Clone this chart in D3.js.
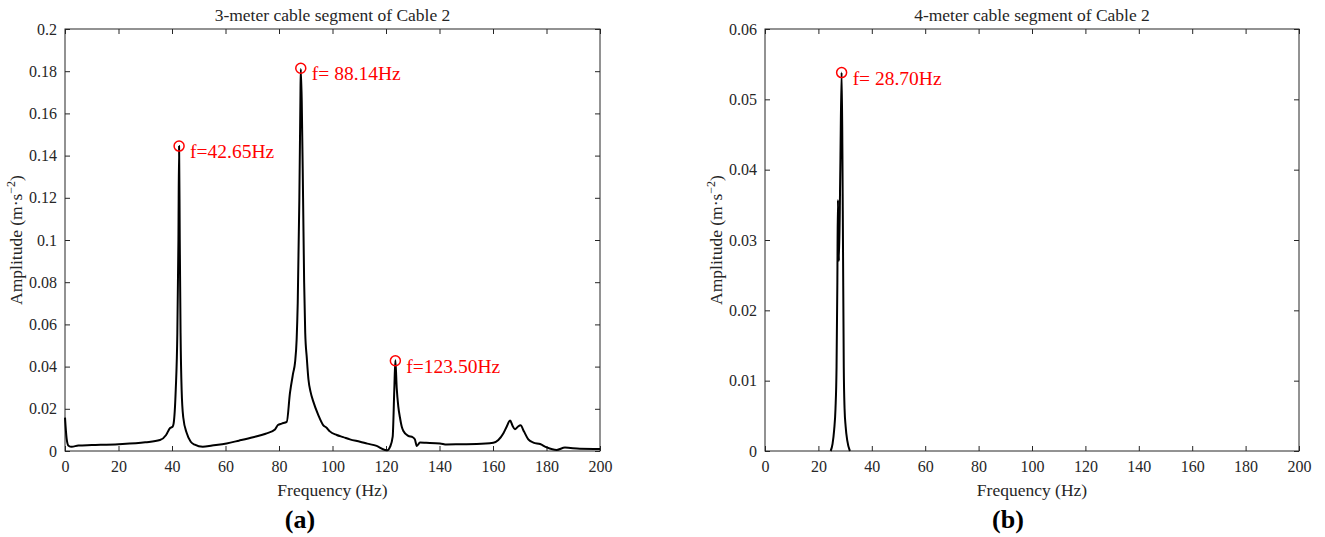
<!DOCTYPE html>
<html>
<head>
<meta charset="utf-8">
<script src="https://cdn.jsdelivr.net/npm/d3@7"></script>
<style>
  body { margin: 0; background: #fff; }
  svg { display: block; font-family: "Liberation Serif", "Times New Roman", serif; }
</style>
</head>
<body>
<svg id="chart" width="1325" height="537"></svg>
<script>
// ---- Data ----
const freqA = [0, 0.6, 1.3, 2.5, 5, 10, 20, 30, 35.5, 37.8, 39.2, 40.2, 40.6, 41.4, 42.0, 42.4, 42.65, 42.9, 43.2, 43.6, 44.2, 45.5, 47.0, 48.5, 51.5, 55, 60.4, 65, 70.3, 75, 78.5, 79.6, 81, 82.9, 84.1, 85.3, 86.0, 86.6, 87.0, 87.6, 88.0, 88.14, 88.5, 89.0, 89.4, 89.8, 90.4, 91.0, 91.8, 92.8, 94.7, 96.5, 97.8, 99, 101.6, 104, 106.5, 110.3, 113, 116.5, 119.6, 120.5, 121.5, 122.5, 123.1, 123.5, 124.0, 124.6, 125.2, 125.9, 126.5, 128.3, 130.0, 130.8, 131.5, 132.7, 135, 140.2, 142.7, 148, 153.9, 160.1, 162, 163.9, 165.1, 166.4, 167.3, 168.2, 169.3, 170.3, 171.6, 173.2, 175.1, 177.6, 180.1, 183.8, 186.9, 192.5, 200];
const ampA = [0.0158, 0.006, 0.0025, 0.002, 0.0026, 0.0028, 0.0032, 0.0041, 0.0052, 0.0076, 0.0108, 0.0115, 0.013, 0.029, 0.056, 0.10, 0.1445, 0.10, 0.056, 0.029, 0.016, 0.0085, 0.0044, 0.003, 0.002, 0.0026, 0.0036, 0.0049, 0.0065, 0.0082, 0.0102, 0.0123, 0.013, 0.0138, 0.0275, 0.037, 0.042, 0.053, 0.07, 0.119, 0.166, 0.181, 0.166, 0.12, 0.08, 0.056, 0.044, 0.034, 0.028, 0.0235, 0.017, 0.0123, 0.011, 0.0093, 0.0076, 0.0066, 0.0055, 0.0044, 0.0035, 0.0024, 0.0005, 0.0003, 0.0019, 0.0068, 0.029, 0.043, 0.03, 0.021, 0.016, 0.0115, 0.0095, 0.0072, 0.0065, 0.0055, 0.0024, 0.004, 0.0039, 0.0036, 0.0031, 0.0032, 0.0033, 0.0039, 0.0052, 0.0084, 0.0115, 0.0144, 0.012, 0.0103, 0.0115, 0.0122, 0.0092, 0.0055, 0.004, 0.0033, 0.0017, 0.0005, 0.0016, 0.0011, 0.001];

const freqB = [24.6, 25.3, 25.9, 26.4, 26.8, 27.1, 27.3, 27.7, 28.2, 28.7, 29.0, 29.2, 29.5, 29.8, 30.2, 30.8, 31.8];
const ampB  = [0.0, 0.001, 0.003, 0.006, 0.012, 0.024, 0.0357, 0.027, 0.04, 0.0538, 0.042, 0.03, 0.012, 0.006, 0.0035, 0.0015, 0.0];

const peakFreqA = [42.65, 88.14, 123.50];
const peakAmpA  = [0.1445, 0.1814, 0.0428];
const peakLabelA = ["f=42.65Hz", "f= 88.14Hz", "f=123.50Hz"];
const peakFreqB = [28.70];
const peakAmpB  = [0.0538];
const peakLabelB = ["f= 28.70Hz"];

const xTicks = [0, 20, 40, 60, 80, 100, 120, 140, 160, 180, 200];
const yTicksA = [0, 0.02, 0.04, 0.06, 0.08, 0.1, 0.12, 0.14, 0.16, 0.18, 0.2];
const yTicksB = [0, 0.01, 0.02, 0.03, 0.04, 0.05, 0.06];

const titles = ["3-meter cable segment of Cable 2", "4-meter cable segment of Cable 2"];
const panelLetters = ["(a)", "(b)"];
const xLabel = "Frequency (Hz)";

// ---- Drawing ----
const svg = d3.select("#chart");
const axisColor = "#262626";
const fmt = d => d === 0 ? "0" : String(+d.toFixed(3));

function panel(opts) {
  const { x0, x1, y0, y1, yMax, yTicks, freq, amp, pf, pa, pl, title, letter, letterX, ylabX } = opts;
  const x = d3.scaleLinear().domain([0, 200]).range([x0, x1]);
  const y = d3.scaleLinear().domain([0, yMax]).range([y1, y0]);
  const g = svg.append("g");

  g.append("rect").attr("x", x0).attr("y", y0).attr("width", x1 - x0).attr("height", y1 - y0)
    .attr("fill", "none").attr("stroke", axisColor).attr("stroke-width", 1);

  const tl = 5;
  const style = sel => {
    sel.select(".domain").remove();
    sel.selectAll(".tick line").attr("stroke", axisColor).attr("stroke-width", 1);
    sel.selectAll(".tick text").attr("fill", axisColor).style("font-size", "16px")
      .style("font-family", "'Liberation Serif', serif");
  };
  g.append("g").attr("transform", `translate(0,${y1})`)
    .call(d3.axisBottom(x).tickValues(xTicks).tickSize(-tl).tickPadding(10).tickFormat(d3.format("d")))
    .call(style);
  g.append("g").attr("transform", `translate(0,${y0})`)
    .call(d3.axisTop(x).tickValues(xTicks).tickSize(-tl).tickFormat(""))
    .call(style);
  g.append("g").attr("transform", `translate(${x0},0)`)
    .call(d3.axisLeft(y).tickValues(yTicks).tickSize(-tl).tickPadding(8).tickFormat(fmt))
    .call(style);
  g.append("g").attr("transform", `translate(${x1},0)`)
    .call(d3.axisRight(y).tickValues(yTicks).tickSize(-tl).tickFormat(""))
    .call(style);

  const pts = freq.map((f, i) => [f, amp[i]]);
  g.append("path").datum(pts)
    .attr("fill", "none").attr("stroke", "#000").attr("stroke-width", 2).attr("stroke-linejoin", "round")
    .attr("d", d3.line().curve(d3.curveMonotoneX).x(d => x(d[0])).y(d => y(d[1])));

  pf.forEach((f, i) => {
    g.append("circle").attr("cx", x(f)).attr("cy", y(pa[i])).attr("r", 5)
      .attr("fill", "none").attr("stroke", "#ff0000").attr("stroke-width", 1.5);
    g.append("text").attr("x", x(f) + 11).attr("y", y(pa[i]) + 12)
      .attr("fill", "#ff0000").style("font-size", "19.5px").text(pl[i]);
  });

  g.append("text").attr("x", (x0 + x1) / 2).attr("y", 21).attr("text-anchor", "middle")
    .attr("fill", axisColor).style("font-size", "17.5px").text(title);
  g.append("text").attr("x", (x0 + x1) / 2).attr("y", 496).attr("text-anchor", "middle")
    .attr("fill", axisColor).style("font-size", "17.5px").text(xLabel);
  const yl = g.append("text").attr("transform", `translate(${ylabX},${(y0 + y1) / 2}) rotate(-90)`)
    .attr("text-anchor", "middle").attr("fill", axisColor).style("font-size", "17.5px");
  yl.append("tspan").text("Amplitude (m·s");
  yl.append("tspan").attr("dy", -7).style("font-size", "12px").text("−2");
  yl.append("tspan").attr("dy", 7).text(")");
  g.append("text").attr("x", letterX).attr("y", 528).attr("text-anchor", "middle")
    .attr("fill", "#000").style("font-size", "26px").style("font-weight", "bold").text(letter);
}

panel({ x0: 65, x1: 600, y0: 29, y1: 451, yMax: 0.2, yTicks: yTicksA, freq: freqA, amp: ampA,
  pf: peakFreqA, pa: peakAmpA, pl: peakLabelA, title: titles[0], letter: panelLetters[0], letterX: 300, ylabX: 22 });
panel({ x0: 765, x1: 1299, y0: 29, y1: 451, yMax: 0.06, yTicks: yTicksB, freq: freqB, amp: ampB,
  pf: peakFreqB, pa: peakAmpB, pl: peakLabelB, title: titles[1], letter: panelLetters[1], letterX: 1008, ylabX: 722 });
</script>
</body>
</html>
